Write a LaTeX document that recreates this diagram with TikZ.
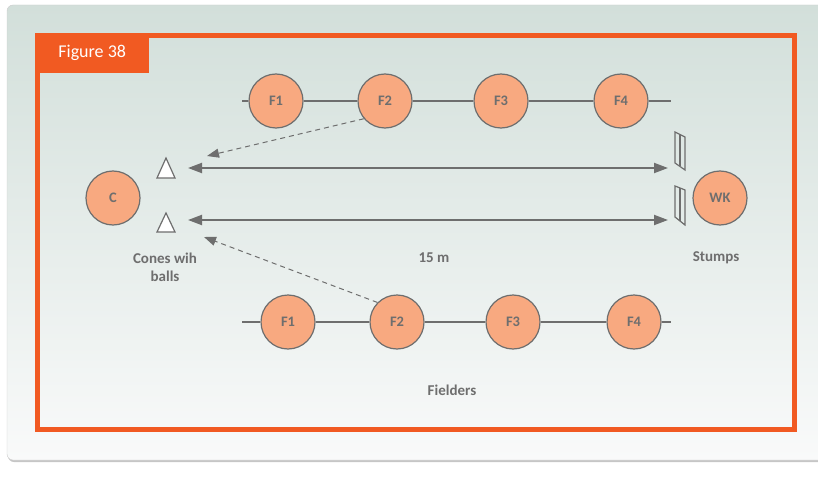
\documentclass[tikz,border=0pt]{standalone}
\usepackage{fontspec}
\setmainfont{Carlito}
\usetikzlibrary{arrows.meta,positioning}

\definecolor{panelTop}{HTML}{D2DFDA}
\definecolor{panelBot}{HTML}{F9FAFA}
\definecolor{frameOrange}{HTML}{F15A22}
\definecolor{playerFill}{HTML}{F8A980}
\definecolor{drillGrey}{HTML}{6E6E6E}

\begin{document}
\begin{tikzpicture}[x=1pt,y=-1pt,>={Triangle[length=14pt,width=10pt]},
                    player/.style={circle,draw=drillGrey,line width=1.2pt,fill=playerFill,
                      minimum size=54pt,inner sep=0pt,text=drillGrey,
                      font=\fontsize{14.5}{16}\selectfont\bfseries},
                    caption/.style={text=drillGrey,align=center,
                      font=\fontsize{15}{18}\selectfont\bfseries},
                    run/.style={draw=drillGrey,line width=2pt},
                    throw/.style={draw=drillGrey,line width=1pt,dash pattern=on 5pt off 4pt,
                      -{Triangle[length=12pt,width=9pt]}},
                    kit/.style={draw=drillGrey,line width=1.2pt}]

  \useasboundingbox (0,0) rectangle (818,489);
  \fill[gray!45,rounded corners=6pt] (8,7) rectangle (830,462);
  \shade[top color=panelTop,bottom color=panelBot,draw=gray!40,rounded corners=6pt]
    (7,5) rectangle (830,460);
  \draw[frameOrange,line width=5pt] (37.5,36) rectangle (794,429.5);
  \node[fill=frameOrange,text=white,anchor=north west,minimum width=114pt,
        minimum height=39pt,inner sep=0pt,font=\fontsize{18}{20}\selectfont]
        (tab) at (35,33.5) {Figure 38};

  \node[player] (F1) at (276,101) {F1};
  \node[player] (F2) at (385,101) {F2};
  \node[player] (F3) at (501,101) {F3};
  \node[player] (F4) at (621,101) {F4};
  \coordinate (topL) at (242,101);
  \coordinate (topR) at (671,101);
  \path[run] (topL) edge (F1) (F1) edge (F2) (F2) edge (F3) (F3) edge (F4) (F4) edge (topR);

  \node[player] (G1) at (288,322) {F1};
  \node[player] (G2) at (397,322) {F2};
  \node[player] (G3) at (513,322) {F3};
  \node[player] (G4) at (634,322) {F4};
  \coordinate (botL) at (242,322);
  \coordinate (botR) at (671,322);
  \path[run] (botL) edge (G1) (G1) edge (G2) (G2) edge (G3) (G3) edge (G4) (G4) edge (botR);

  \node[player] (C)  at (113,198) {C};
  \node[player] (WK) at (720,198) {WK};

  \draw[kit,fill=white] (157,178) -- (166,158) -- (175,178) -- cycle;
  \draw[kit,fill=white] (157,232) -- (166,213) -- (175,232) -- cycle;

  \draw[kit] (675,132) -- (675,163) -- (685,170) -- (685,137) -- cycle;
  \draw[kit] (680,134.5) -- (680,166.5);
  \draw[kit] (675,186) -- (675,217) -- (685,225) -- (685,190) -- cycle;
  \draw[kit] (680,188) -- (680,221);

  \coordinate (upL) at (188,168);
  \coordinate (upR) at (668,168);
  \coordinate (lowL) at (188,220);
  \coordinate (lowR) at (668,220);
  \draw[run,<->] (upL) -- (upR);
  \draw[run,<->] (lowL) -- (lowR);

  \coordinate (passUp) at (207,156);
  \coordinate (passLow) at (204,237);
  \draw[throw] (F2.220) -- (passUp);
  \draw[throw] (G2.135) -- (passLow);

  \node[caption] (cones)    at (165,267) {Cones wih\\balls};
  \node[caption] (dist)     at (434,258) {15 m};
  \node[caption] (stumps)   at (716,258) {Stumps};
  \node[caption] (fielders) at (452,390) {Fielders};

\end{tikzpicture}
\end{document}
